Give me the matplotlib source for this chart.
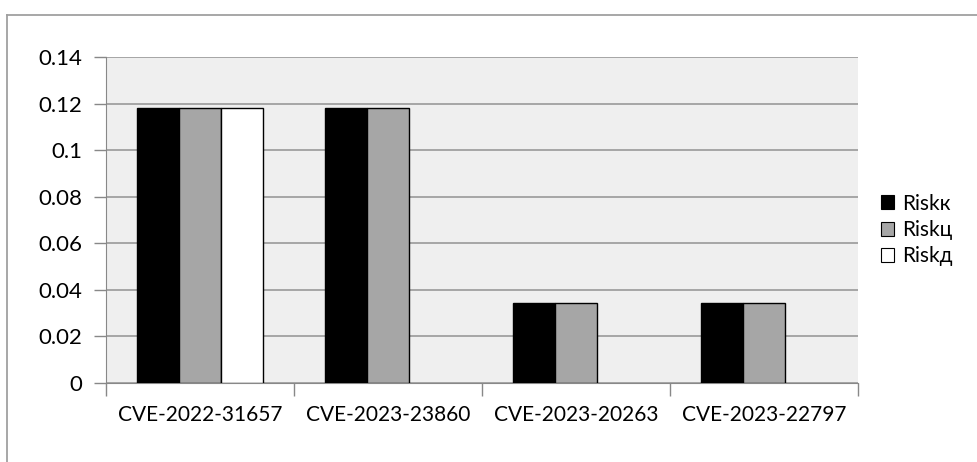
import matplotlib
matplotlib.use("Agg")
import matplotlib.pyplot as plt
from matplotlib.lines import Line2D
from matplotlib.patches import Patch
import numpy as np

plt.rcParams['font.family'] = ['Lato', 'DejaVu Sans']

cves = ['CVE-2022-31657', 'CVE-2023-23860', 'CVE-2023-20263', 'CVE-2023-22797']
risk_k = [0.118, 0.118, 0.0345, 0.0345]
risk_c = [0.118, 0.118, 0.0345, 0.0345]
risk_d = [0.118, np.nan, np.nan, np.nan]
series_names = ['Riskк', 'Riskц', 'Riskд']
series_colors = ['#000000', '#a6a6a6', '#ffffff']
yticks = [0, 0.02, 0.04, 0.06, 0.08, 0.1, 0.12, 0.14]
ytick_labels = ['0', '0.02', '0.04', '0.06', '0.08', '0.1', '0.12', '0.14']

fig = plt.figure(figsize=(9.77, 4.62), dpi=100)
ax = fig.add_axes([106 / 977, 1 - 383 / 462, 752 / 977, 326 / 462])
ax.set_facecolor('#efefef')

x = np.arange(len(cves))
w = 0.224
for i, (vals, col) in enumerate(zip([risk_k, risk_c, risk_d], series_colors)):
    ax.bar(x + (i - 1) * w, vals, width=w, color=col, edgecolor='#000000',
           linewidth=1.0, zorder=3)

ax.set_xlim(-0.5, len(cves) - 0.5)
ax.set_ylim(0, 0.14)
ax.set_yticks(yticks)
ax.set_yticklabels(ytick_labels, fontsize=16)
ax.yaxis.grid(True, color='#a0a0a0', linewidth=1.3, zorder=0)
ax.set_axisbelow(True)

# category labels centered, ticks on group boundaries
ax.set_xticks(x)
ax.set_xticklabels(cves, fontsize=15)
ax.tick_params(axis='x', length=0, pad=16)
ax.set_xticks(np.arange(len(cves) + 1) - 0.5, minor=True)
ax.tick_params(axis='x', which='minor', length=9, color='#888888', width=1)
ax.tick_params(axis='y', length=9, color='#888888', width=1, pad=8)

for side in ['top', 'right']:
    ax.spines[side].set_visible(False)
ax.spines['left'].set_color('#888888')
ax.spines['bottom'].set_color('#888888')

handles = [Patch(facecolor=c, edgecolor='#000000', linewidth=0.8) for c in series_colors]
leg = fig.legend(handles, series_names, loc='center left',
                 bbox_to_anchor=(866 / 977, 1 - 230 / 462), frameon=False,
                 fontsize=15, handlelength=0.65, handleheight=0.65,
                 handletextpad=0.4, labelspacing=0.3, borderpad=0.2)

# chart border (top and left edges)
fig.add_artist(Line2D([7 / 977, 1.0], [1 - 15 / 462, 1 - 15 / 462],
                      transform=fig.transFigure, color='#a0a0a0', linewidth=1.3))
fig.add_artist(Line2D([7 / 977, 7 / 977], [0, 1 - 15 / 462],
                      transform=fig.transFigure, color='#a0a0a0', linewidth=1.3))

fig.savefig('out.png', dpi=100, facecolor='white')
